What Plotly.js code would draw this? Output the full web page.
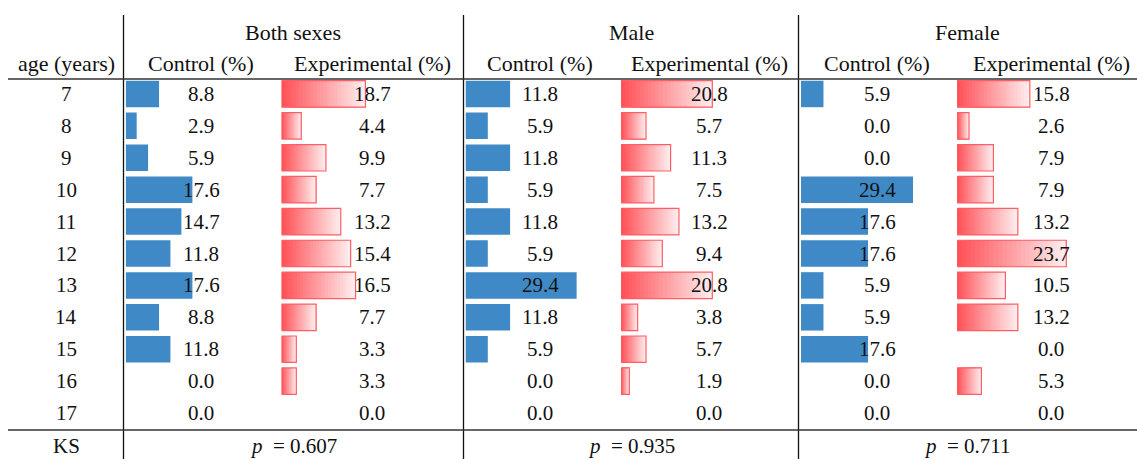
<!DOCTYPE html>
<html>
<head>
<meta charset="utf-8">
<script src="https://cdn.plot.ly/plotly-3.0.1.min.js"></script>
<style>html,body{margin:0;padding:0;background:#fff;}#chart{width:1137px;height:459px;}</style>
</head>
<body>
<div id="chart"></div>
<script>
// ---- data ----
const ages = ['7','8','9','10','11','12','13','14','15','16','17'];
const groups = ['Both sexes','Male','Female'];
const columnLabels = ['Control (%)','Experimental (%)'];
const bothControl   = [8.8, 2.9, 5.9, 17.6, 14.7, 11.8, 17.6, 8.8, 11.8, 0.0, 0.0];
const bothExp       = [18.7, 4.4, 9.9, 7.7, 13.2, 15.4, 16.5, 7.7, 3.3, 3.3, 0.0];
const maleControl   = [11.8, 5.9, 11.8, 5.9, 11.8, 5.9, 29.4, 11.8, 5.9, 0.0, 0.0];
const maleExp       = [20.8, 5.7, 11.3, 7.5, 13.2, 9.4, 20.8, 3.8, 5.7, 1.9, 0.0];
const femaleControl = [5.9, 0.0, 0.0, 29.4, 17.6, 17.6, 5.9, 5.9, 17.6, 0.0, 0.0];
const femaleExp     = [15.8, 2.6, 7.9, 7.9, 13.2, 23.7, 10.5, 13.2, 0.0, 5.3, 0.0];
const ksPValues = ['0.607', '0.935', '0.711'];

// ---- layout geometry (pixels) ----
const W = 1137, H = 459;
const FONT = '"Liberation Serif", "Times New Roman", serif';
const FS = 21;
const FSH = 22;
const px = v => v / W;
const py = v => 1 - v / H;

const cols = [
  {vals: bothControl,   start: 125.7, scale: 3.79, cx: 201,  type: 'c'},
  {vals: bothExp,       start: 281.5, scale: 4.49, cx: 372,  type: 'e'},
  {vals: maleControl,   start: 465.5, scale: 3.78, cx: 540,  type: 'c'},
  {vals: maleExp,       start: 621.0, scale: 4.39, cx: 709,  type: 'e'},
  {vals: femaleControl, start: 801.0, scale: 3.81, cx: 877,  type: 'c'},
  {vals: femaleExp,     start: 957.0, scale: 4.61, cx: 1051, type: 'e'}
];
const groupCenters = [293, 631, 967];
const DOMW = 150;

const rowTop = 78, rowBottom = 429;
const yIdx = ages.map((a, i) => i);

const traces = [];
const layout = {
  width: W, height: H,
  margin: {l: 0, r: 0, t: 0, b: 0, pad: 0},
  paper_bgcolor: '#ffffff', plot_bgcolor: 'rgba(0,0,0,0)',
  showlegend: false,
  barmode: 'overlay',
  bargap: 0.17,
  hovermode: false,
  yaxis: {
    type: 'linear', range: [10.5, -0.5], domain: [py(rowBottom), py(rowTop)],
    visible: false, showgrid: false, zeroline: false, fixedrange: true
  },
  annotations: [],
  shapes: []
};

const blue = '#3F8AC6';
const redStart = [255, 82, 88];
const redEnd = [255, 236, 237];
const NSEG = 24;

cols.forEach((col, ci) => {
  const n = ci + 1;
  const xa = n === 1 ? 'x' : 'x' + n;
  const xkey = n === 1 ? 'xaxis' : 'xaxis' + n;
  layout[xkey] = {
    domain: [px(col.start), px(col.start + DOMW)],
    range: [0, DOMW / col.scale],
    visible: false, showgrid: false, zeroline: false, fixedrange: true,
    anchor: 'y'
  };
  if (col.type === 'c') {
    traces.push({
      type: 'bar', orientation: 'h', x: col.vals, y: yIdx,
      xaxis: xa, yaxis: 'y',
      marker: {color: blue, line: {width: 0}}
    });
  } else {
    for (let k = 0; k < NSEG; k++) {
      const t = k / (NSEG - 1);
      const c = redStart.map((s, j) => Math.round(s + (redEnd[j] - s) * t));
      traces.push({
        type: 'bar', orientation: 'h',
        base: col.vals.map(v => v * k / NSEG),
        x: col.vals.map(v => v * (NSEG - k) / NSEG),
        y: yIdx, xaxis: xa, yaxis: 'y',
        marker: {color: 'rgb(' + c.join(',') + ')', line: {width: 0}}
      });
    }
    traces.push({
      type: 'bar', orientation: 'h', x: col.vals, y: yIdx,
      xaxis: xa, yaxis: 'y',
      marker: {color: 'rgba(0,0,0,0)',
               line: {width: col.vals.map(v => v > 0 ? 1.2 : 0), color: 'rgb(255,95,100)'}}
    });
  }
  col.vals.forEach((v, i) => {
    layout.annotations.push({
      xref: 'paper', yref: 'y', x: px(col.cx), y: i,
      text: v.toFixed(1), showarrow: false, xanchor: 'center', yanchor: 'middle',
      font: {family: FONT, size: FS, color: '#111'}
    });
  });
  layout.annotations.push({
    xref: 'paper', yref: 'paper', x: px(col.cx), y: py(64),
    text: columnLabels[col.type === 'c' ? 0 : 1], showarrow: false,
    xanchor: 'center', yanchor: 'middle',
    font: {family: FONT, size: FSH, color: '#111'}
  });
});

ages.forEach((a, i) => {
  layout.annotations.push({
    xref: 'paper', yref: 'y', x: px(66), y: i, text: a, showarrow: false,
    xanchor: 'center', yanchor: 'middle', font: {family: FONT, size: FS, color: '#111'}
  });
});
layout.annotations.push({
  xref: 'paper', yref: 'paper', x: px(66), y: py(64), text: 'age (years)', showarrow: false,
  xanchor: 'center', yanchor: 'middle', font: {family: FONT, size: FSH, color: '#111'}
});
layout.annotations.push({
  xref: 'paper', yref: 'paper', x: px(66), y: py(446), text: 'KS', showarrow: false,
  xanchor: 'center', yanchor: 'middle', font: {family: FONT, size: FS, color: '#111'}
});
groups.forEach((g, gi) => {
  layout.annotations.push({
    xref: 'paper', yref: 'paper', x: px(groupCenters[gi]), y: py(32), text: g, showarrow: false,
    xanchor: 'center', yanchor: 'middle', font: {family: FONT, size: FSH, color: '#111'}
  });
  layout.annotations.push({
    xref: 'paper', yref: 'paper', x: px(groupCenters[gi]), y: py(446),
    text: '<i>p</i>  = ' + ksPValues[gi], showarrow: false,
    xanchor: 'center', yanchor: 'middle', font: {family: FONT, size: FS, color: '#111'}
  });
});

[123.5, 463.5, 798.5].forEach(x => {
  layout.shapes.push({type: 'line', xref: 'paper', yref: 'paper',
    x0: px(x), x1: px(x), y0: py(15), y1: 0, line: {color: '#111', width: 1.3}});
});
[79, 430].forEach(y => {
  layout.shapes.push({type: 'line', xref: 'paper', yref: 'paper',
    x0: px(8), x1: 1, y0: py(y), y1: py(y), line: {color: '#333', width: 1.5}});
});

Plotly.newPlot('chart', traces, layout, {displayModeBar: false, staticPlot: true});
</script>
</body>
</html>
